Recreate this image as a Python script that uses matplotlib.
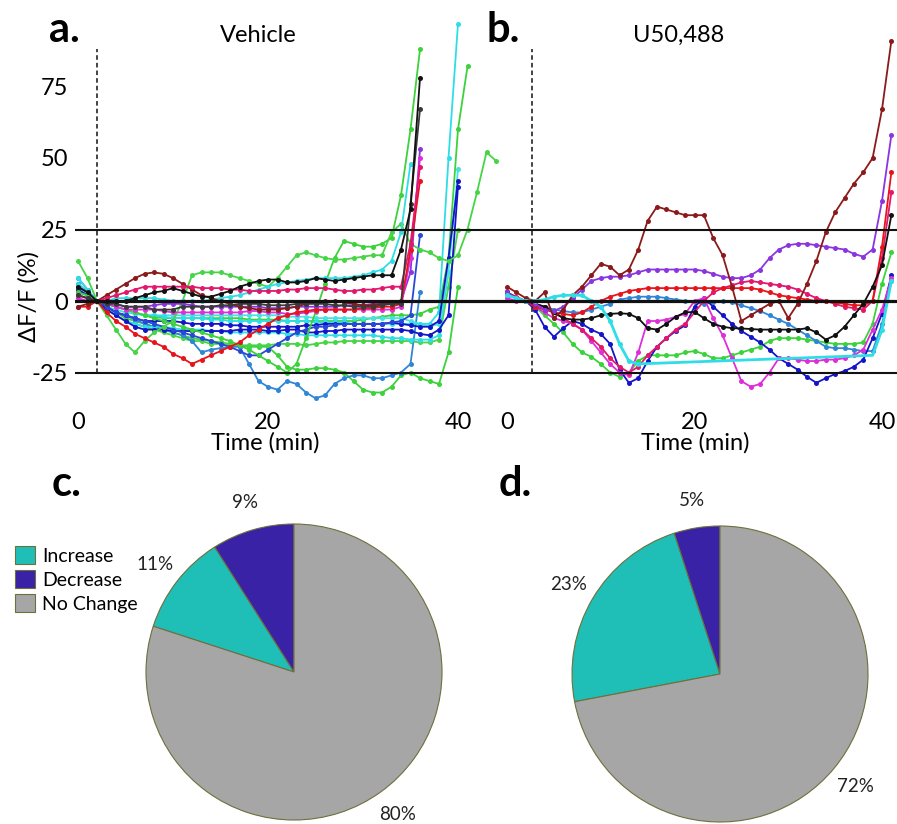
import numpy as np
import matplotlib
matplotlib.use("Agg")
import matplotlib.pyplot as plt

plt.rcParams['font.family'] = ['Lato', 'DejaVu Sans']
plt.rcParams['axes.unicode_minus'] = False

# ---------------- DATA ----------------
# Panel a (Vehicle): values at 1-min intervals starting at t=0
a_black = [5,3,0,0,0, 0,1,2,3,3.5, 4.5,3.5,2.5,1.5,1.5, 2.5,3.5,5,6,7, 7.5,7.5,6.5,6.5,7, 8,7.5,7,7.5,8, 8.5,9,9,9,18, 32,78]
a_dark = [2,1,0,-1,-1, -2,-2,-2,-3,-3, -3,-2,-2,-2,-2, -1.5,-1.5,-1,-1,-1, -1.5,-1.5,-1.5,-1,-1, -1,-1,-1.5,-1.5,-2, -2,-2,-1.5,-1,-1, 34,67]
a_maroon = [-2,-1,0,2,4, 6,8,9.5,10,9.5, 8,6,4,2,1, 0,-1,-2,-2.5,-3, -3,-3,-2.5,-2,-1, -0.5,0,0,-0.5,-1, -1.5,-1.5,-1,-0.5,0]
a_pink = [2,1,0,1,2, 3,4,5,5,5, 5,5,5,4.5,4.5, 4.5,4,4,3.5,3.5, 3.5,3.5,4,4,4.5, 4.5,4.5,4,3.5,3.5, 4,4,4.5,5,5, 20,47]
a_red = [-2,-2,0,-4,-7, -9,-11.5,-13,-14.5,-16, -18.5,-20,-22,-20.5,-19, -17.5,-16,-14.5,-12,-10, -8,-6,-5,-4,-3.5, -3,-3,-3,-3,-3, -2.5,-2.5,-2,-2,-1, 18,42]
a_magenta = [1,0,0,-1,-2, -3,-3,-3,-3,-3.5, -4,-4,-4,-4,-4, -4,-4,-4,-3.5,-3.5, -4,-4,-4.5,-4.5,-4, -3.5,-3,-3,-3,-3, -3,-3,-3,-3,-2, 15,50]
a_purple = [2,1,0,0,-1, -2,-2,-2,-1.5,-1, -1,-1,-1.5,-2,-2, -2,-2,-2,-2,-2, -2.5,-2.5,-2.5,-2,-2, -2,-2,-2,-1.5,-1.5, -1.5,-1,-1,-1,0, 10,53]
a_blue1 = [6,3,0,-3,-5, -7,-9,-10,-10,-10, -10.5,-10.5,-10.5,-10.5,-10.5, -10.5,-10.5,-10,-10,-10, -10.5,-10.5,-10,-10,-11, -11,-10.5,-10.5,-10,-10, -10,-10,-10,-10,-10, -10.5,-11.5,-12,-10,-5, 40]
a_blue2 = [5,3,0,-2,-4, -5,-6,-7,-8,-9, -10,-11,-12,-13,-14, -15,-16,-17.5,-19,-19, -17,-15,-13,-11,-10, -9,-9,-8.5,-8,-8, -8,-8,-8,-7.5,-7, -5,23]
a_blue3 = [4,2,0,-2,-4, -5,-6,-7,-7,-7, -7,-7.5,-8,-8,-8, -8,-8.5,-8.5,-9,-9, -9,-9,-9,-9,-8.5, -8.5,-8,-8,-8,-8, -8,-8,-8,-7.5,-8, -8.5,-9,-9,-7,15, 42]
a_steel = [8,4,0,-2,-4, -5,-6.5,-8,-9,-10, -11,-12,-14,-18,-17, -16.5,-16,-16,-22,-28, -30,-31,-28,-29,-32, -34,-33,-29,-27,-26, -26,-27,-27,-26,-25, -22,3]
a_cyan1 = [8,4,0,-1,-2, -3,-4,-5,-5,-5.5, -6,-6,-6,-6,-6.5, -6.5,-7,-7,-7,-7, -7,-7,-7,-7,-7, -7.5,-7.5,-7.5,-7.5,-8, -8,-8,-8,-8,-8, -8,-8,-8,-4,50, 97]
a_cyan2 = [6,3,0,0,1, 1,1,1,1,0.5, 0,0,0,0,0.5, 1,1.5,2,3,4, 5,6,6.5,7,7.5, 8,8,8,8,8.5, 9,10,11,14,24, 48]
a_cyan3 = [4,2,0,-2,-3, -4,-4.5,-5,-5,-5, -5,-5,-5,-5,-5, -5,-5,-5,-5,-5, -5,-5,-5.5,-5.5,-5.5, -6,-6,-6,-6,-6, -6,-6,-6,-6,-6, -7,-8,-9,-8,10, 46]
a_cyan4 = [3,2,0,-3,-5, -7,-8,-9,-9,-9, -9.5,-10,-10,-10,-10.5, -10.5,-11,-11,-11,-11, -11,-11,-11.5,-11.5,-12, -12,-12,-12,-12,-12, -12,-12,-12.5,-13,-13, -13.5,-13.5,-13.5,-12,10]
a_green1 = [14,8,0,-5,-10, -15,-18,-14,-11,-9, -7,0,9,10,10, 10,9,8,7,6, 5,8,12,16,17, 16,15,14.5,14.5,15, 15.5,16,16,24,27, 20,18,17,15,14, 16,25,38,52,49]
a_green2 = [3,2,0,-1,-2, -3,-4,-5,-6,-7, -8,-9,-10,-11,-12, -13,-14,-15.5,-17,-19, -21,-23,-25,-22,-13, -4,6,15,21,20, 19,19,20,22,37, 60,88]
a_green3 = [3,2,0,-2,-4, -6,-7,-8,-9,-10, -11,-12,-13,-13.5,-14, -14.5,-15,-15.5,-16,-16, -16,-19,-23,-24,-24, -23.5,-23.5,-24,-25,-28, -31,-32,-32,-30,-26, -25,-27,-28,-29,-18, 5]
a_green4 = [5,3,0,-3,-5, -7,-8,-9,-10,-11, -12,-13,-14,-14,-15, -15,-15,-15.5,-15.5,-15.5, -15.5,-15,-15,-15,-15.5, -15,-14.5,-14.5,-14,-14, -14,-14,-14,-14,-14, -14,-14.5,-14.5,-13.5,5, 25]
a_green5 = [4,2,0,-1,-2, -3,-4,-5,-5.5,-6, -6,-6,-6,-6,-6, -6,-6,-6,-6.5,-6.5, -6.5,-6.5,-7,-7,-7, -7,-7,-7,-7,-7, -6.5,-6,-5.5,-5,-5, -5,-4.5,-3,-2,15, 60,82]

# Panel b (U50,488)
b_maroon = [5,3,1,0,3, -6,-3,2,5,9, 13,12,9,11,18, 28,33,32,31,30, 30,30,22,16,5, -7,-5,-3,-1,0, -6,-1,6,14,24, 31,36,41,45,50, 67,91]
b_purple = [3,1,0,-1,-3, -3.5,-2,1,4,7, 8,8.5,8.5,9,10, 11,11,11,11,11, 11,10.5,9.5,8.5,8, 8,9,11,15,18, 19.5,20,20,19.5,19, 18.5,18,16.5,15.5,18, 35,58]
b_red = [3,1,0,-2,-3, -4,-4.5,-5,-4,-2, 0,1.5,2.5,3.5,4, 4.5,4.5,4.5,4.5,4.5, 4.5,4.5,4.5,4.5,4.5, 4.5,4.5,4,3,2, 1.5,1,0.5,0,0, -0.5,-1,-1.5,-1.5,0, 19,45]
b_pink = [3,1.5,0,-1,-2, -4,-6,-8,-10,-13, -16,-20,-23,-25,-23, -19,-16,-13,-10,-8, -4,0,3,4.5,5.5, 6.5,7,6.5,6,5.5, 5,4,2.5,1,0, -1,-2,-2.5,-3,0, 15,38]
b_magenta = [1,0,0,-2,-4, -6,-7,-8,-10,-14, -18,-22,-25,-26,-18, -7,-7,-6.5,-5.5,-4.5, 0,1,-6,-12,-20, -28,-30,-29,-25,-20, -20,-20.5,-21,-21,-20.5, -20.5,-20,-19,-17,-10, -3,8]
b_black = [3,1,0,-1,-2, -4,-6,-6.5,-6.5,-6, -5,-4.5,-4.3,-4.5,-6, -9.5,-10,-8,-5.5,-4, -3.8,-6,-8,-9,-9.5, -9.6,-9.8,-10,-10,-10, -10,-10,-9.5,-11,-13.5, -12,-9,-5,-1,5, 12.5,30]
b_blue = [3,1,0,-3,-9, -12.5,-9.5,-7,-8,-10, -11.5,-15,-24,-28.6,-27, -21,-16,-13,-10.5,-8.5, -2,1,-2,-5,-8, -10.5,-12.5,-14.5,-17,-20, -22,-24,-26.5,-28.6,-27, -25.5,-24.5,-23,-20.5,-13, -4.4,9]
b_green = [2,1,0,-2,-5, -8,-11,-15,-18,-19.5, -22,-25,-26.5,-25,-21, -19,-19,-19,-19,-18, -17.5,-18.5,-20,-20,-19, -18,-17,-16,-14,-13, -13,-13,-13.5,-14,-14.5, -15,-15,-15,-14.5,-8, 6,17]
b_steel = [3,1,0,-1,-2, -3,-3.5,-4,-4,-3, -2,-1,0.5,1,1.5, 1.5,1.5,1,0.5,0, -0.5,-1,-0.5,0,-0.5, -1.5,-2.5,-3.5,-5,-6.5, -8,-10,-12,-14,-16, -16.5,-16.5,-17,-17.5,-17.5, -8,7]
b_cyan_t = [0,1,2,3,4,5,6,7,8,9,10,11,12,13,14,39,40,41]
b_cyan = [2,1,0,0,0.5,1.5,2,2,2,0,-2,-7,-15,-21,-22,-19,-10,7]

thresholds = [25, 0, -25]
yticks = [75, 50, 25, 0, -25]
xticks = [0, 20, 40]
injection_a = 2.0
injection_b = 2.7

pie_labels = ['Increase', 'Decrease', 'No Change']
pie_c = [11, 9, 80]
pie_d = [23, 5, 72]

# ---------------- STYLE ----------------
C = dict(black='#111111', dark='#3a3a3a', maroon='#8b1a1a', pink='#e3176b', red='#e8141c',
         magenta='#dd2ed8', purple='#8a35e0', blue='#1414c8', royal='#2848d8', steel='#2f86d6',
         cyan='#2fdde6', cyan2='#45e3e0', green='#3bd23b', green2='#47d447')
pie_colors = ['#1fbfb8', '#3a22a6', '#a6a6a6']
FS = 17

W, H = 897, 824
fig = plt.figure(figsize=(W/100, H/100), dpi=100)

def fx(px):
    return px / W
def fy(py):
    return 1 - py / H

ax_top, ax_bot = 20, 405
ax_a = fig.add_axes([fx(75), fy(ax_bot), fx(505) - fx(75), (ax_bot - ax_top) / H])
ax_b = fig.add_axes([fx(505), fy(ax_bot), fx(897) - fx(505), (ax_bot - ax_top) / H])

ymin, ymax = (301 - ax_bot) / 2.86, (301 - ax_top) / 2.86
ax_a.set_xlim((75 - 78) / 9.5, (505 - 78) / 9.5)
ax_b.set_xlim((505 - 507) / 9.375, (897 - 507) / 9.375)

traces_a = [
    (a_green3, C['green']), (a_green4, C['green2']), (a_green5, C['green']),
    (a_steel, C['steel']), (a_cyan4, C['cyan']), (a_cyan3, C['cyan2']), (a_cyan1, C['cyan']),
    (a_blue3, C['blue']), (a_blue1, C['blue']), (a_blue2, C['royal']),
    (a_green2, C['green']), (a_green1, C['green2']), (a_cyan2, C['cyan']),
    (a_purple, C['purple']), (a_magenta, C['magenta']), (a_red, C['red']),
    (a_maroon, C['maroon']), (a_pink, C['pink']), (a_dark, C['dark']), (a_black, C['black']),
]
traces_b = [
    (b_green, C['green']), (b_steel, C['steel']), (b_blue, C['blue']),
    (b_magenta, C['magenta']), (b_pink, C['pink']), (b_red, C['red']),
    (b_black, C['black']), (b_purple, C['purple']), (b_maroon, C['maroon']),
]

for ax, traces in ((ax_a, traces_a), (ax_b, traces_b)):
    for vals, col in traces:
        t = np.arange(len(vals))
        ax.plot(t, vals, color=col, lw=1.3, marker='o', ms=3.6, mew=0, zorder=2)

ax_b.plot(b_cyan_t, b_cyan, color=C['cyan'], lw=2.0, marker='o', ms=3.6, mew=0,
          markevery=list(range(15)) + [16, 17], zorder=2)

for ax, inj in ((ax_a, injection_a), (ax_b, injection_b)):
    for th in thresholds:
        ax.axhline(th, color='#111111', lw=2.3 if th == 0 else 1.5, zorder=4)
    ax.plot([inj, inj], [-25, 88], color='#111111', lw=1.1, ls=(0, (3, 2)), zorder=4)
    ax.set_ylim(ymin, ymax)
    for s in ax.spines.values():
        s.set_visible(False)
    ax.set_xticks(xticks)
    ax.set_xticklabels([str(v) for v in xticks], fontsize=FS)
    ax.tick_params(length=0, pad=5)
    ax.patch.set_alpha(0)
    ax.set_xlabel('Time (min)', fontsize=FS, va='top')

ax_a.set_yticks(yticks)
ax_a.set_yticklabels([str(v) for v in yticks], fontsize=FS)
ax_b.set_yticks([])
ax_a.set_ylabel('ΔF/F (%)', fontsize=FS)
ax_a.yaxis.set_label_coords(-0.082, 0.283)
ax_a.xaxis.set_label_coords((265 - 75) / 430, -0.07)
ax_b.xaxis.set_label_coords((695 - 505) / 392, -0.07)

fig.text(fx(258), fy(35), 'Vehicle', fontsize=FS, ha='center', va='center')
fig.text(fx(679), fy(35), 'U50,488', fontsize=FS, ha='center', va='center')

for lbl, x, y in (('a.', 49, 42), ('b.', 486, 42), ('c.', 52, 496), ('d.', 499, 496)):
    fig.text(fx(x), fy(y), lbl, fontsize=30, fontweight='bold', ha='left', va='baseline')

# ---------------- PIES ----------------
R = 148
def pie_axes(cx, cy):
    return fig.add_axes([fx(cx - R), fy(cy + R), 2 * R / W, 2 * R / H])

ax_c = pie_axes(294, 672)
ax_d = pie_axes(720, 674)
wedge_sets = []
for ax, vals in ((ax_c, pie_c), (ax_d, pie_d)):
    start = 90 + (vals[0] + vals[1]) * 3.6
    wedges, _, autotexts = ax.pie(vals, colors=pie_colors, startangle=start, counterclock=False,
                                  autopct='%.0f%%', pctdistance=1.19,
                                  wedgeprops=dict(edgecolor='#6f6f3c', linewidth=0.8),
                                  textprops=dict(fontsize=13.5, color='#222222'))
    ax.set_xlim(-1, 1)
    ax.set_ylim(-1, 1)
    ax.set_aspect('equal')
    wedge_sets.append(wedges)

leg = ax_c.legend(wedge_sets[0], pie_labels, loc='upper left',
                  bbox_to_anchor=(fx(15), fy(546)), bbox_transform=fig.transFigure,
                  frameon=False, fontsize=14, handlelength=1.05, handleheight=1.05,
                  labelspacing=0.28, handletextpad=0.35, borderaxespad=0, borderpad=0)

fig.savefig('out.png', dpi=100)
